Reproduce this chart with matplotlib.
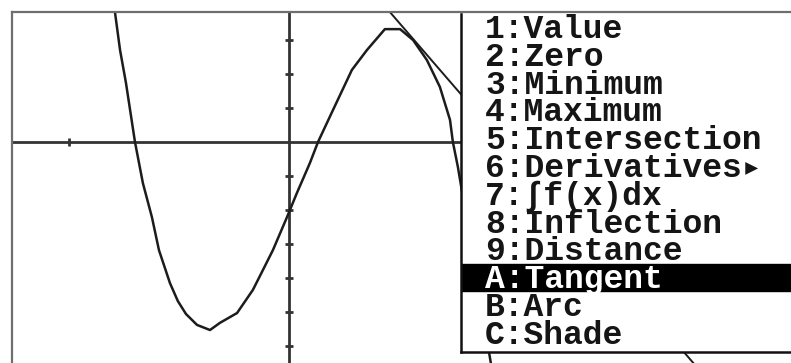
import numpy as np
import matplotlib
matplotlib.use('Agg')
import matplotlib.pyplot as plt

# graph curve, points (x scale 1, y scale 1)
curve_x = [-0.800, -0.791, -0.768, -0.741, -0.700, -0.664, -0.623, -0.591, -0.541,
           -0.505, -0.468, -0.418, -0.359, -0.314, -0.236, -0.164, -0.118, -0.073, -0.009,
           0.036, 0.095, 0.132, 0.200, 0.286, 0.355, 0.436, 0.505, 0.564, 0.627,
           0.686, 0.732, 0.745, 0.768, 0.923]
curve_y = [4.18, 3.82, 2.71, 1.74, 0.00, -1.21, -2.21, -3.18, -4.15,
           -4.68, -5.06, -5.38, -5.53, -5.32, -5.03, -4.35, -3.76, -3.18, -2.21,
           -1.50, -0.62, 0.00, 0.94, 2.12, 2.71, 3.32, 3.32, 3.00, 2.41,
           1.62, 0.65, 0.00, -0.74, -6.71]

# tangent line, two points
tan_p1 = (0.459, 3.82)
tan_p2 = (1.814, -6.32)

# axis tick marks
xtick_vals = [-1, 1, 2]
ytick_vals = [-6, -5, -4, -3, -2, -1, 1, 2, 3]

# F5 Math menu
menu_items = ['1:Value', '2:Zero', '3:Minimum', '4:Maximum', '5:Intersection',
              '6:Derivatives\u25b8', '7:\u222bf(x)dx', '8:Inflection', '9:Distance',
              'A:Tangent', 'B:Arc', 'C:Shade']
selected = 9

W, H = 791, 363
fig = plt.figure(figsize=(W/100, H/100), dpi=100)

# graph window
ax = fig.add_axes([12/W, 0, 1-12/W, 1-12/H])
ax.set_xlim(-1.259, 2.282)
ax.set_ylim(-6.5, 3.824)
ax.axhline(0, color='#333333', linewidth=2.0, zorder=1)
ax.axvline(0, color='#333333', linewidth=2.0, zorder=1)
ax.plot(np.zeros(len(ytick_vals)), ytick_vals, linestyle='none', marker='_',
        markersize=6, markeredgewidth=2, color='#333333', zorder=1)
ax.plot(xtick_vals, np.zeros(len(xtick_vals)), linestyle='none', marker='|',
        markersize=6, markeredgewidth=2, color='#333333', zorder=1)
ax.plot(curve_x, curve_y, color='#1c1c1c', linewidth=1.8, zorder=2)
ax.axline(tan_p1, tan_p2, color='#1c1c1c', linewidth=1.4, zorder=2)
ax.set_xticks([])
ax.set_yticks([])
for s in ['right', 'bottom']:
    ax.spines[s].set_visible(False)
for s in ['left', 'top']:
    ax.spines[s].set_color('#6e6e6e')
    ax.spines[s].set_linewidth(1.6)

# menu box, in screen pixels
m = fig.add_axes([461/W, 11/H, (W-461+5)/W, (352-14)/H])
m.set_xlim(461, W+5)
m.set_ylim(352, 14)
m.set_facecolor('white')
m.set_xticks([])
m.set_yticks([])
for s in ['right', 'top']:
    m.spines[s].set_visible(False)
for s in ['left', 'bottom']:
    m.spines[s].set_color('#111111')
    m.spines[s].set_linewidth(1.8)

row_h = 27.8
m.axhspan(38 + row_h*selected - 24, 38 + row_h*selected + 3, color='black')
for k in range(len(menu_items)):
    m.text(485, 38 + row_h*k, menu_items[k], va='baseline', ha='left',
           fontsize=23.8, fontweight='bold',
           family=['Liberation Mono', 'DejaVu Sans Mono'],
           color='white' if k == selected else '#151515')

fig.savefig('out.png', dpi=100)
